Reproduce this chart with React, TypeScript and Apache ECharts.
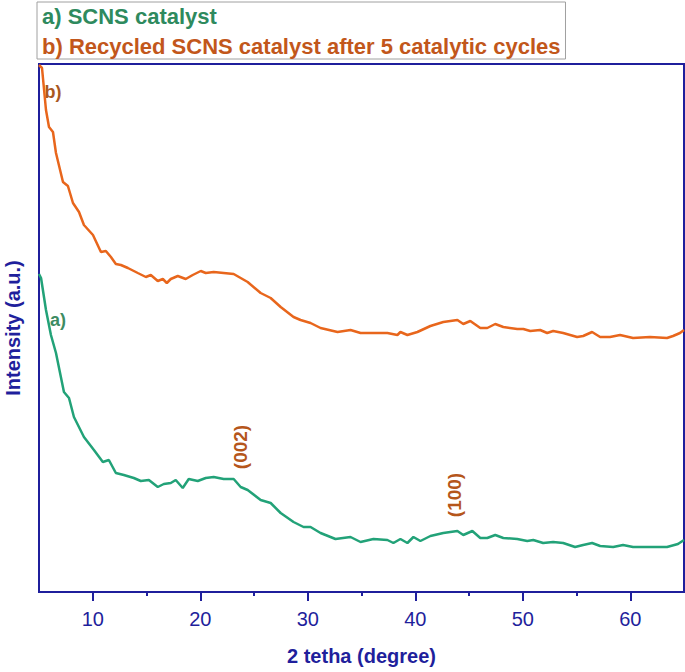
import React from "react";
import * as echarts from "echarts";

// 2θ (degree) / intensity (a.u.)
const recycledX = [
  5.0, 5.28, 5.65, 5.93, 6.3, 6.58, 7.23, 7.69, 8.16, 8.72, 9.18, 10.02, 10.76, 11.22, 11.69,
  12.15, 12.62, 13.27, 14.19, 14.94, 15.4, 16.05, 16.52, 16.89, 17.26, 17.91, 18.65, 19.3,
  20.05, 20.51, 21.25, 22.18, 23.11, 23.76, 24.41, 25.62, 26.55, 27.48, 28.68, 29.33, 30.26,
  31.19, 32.77, 33.98, 34.91, 36.11, 37.41, 38.34, 38.62, 39.27, 40.2, 41.41, 42.61, 43.92,
  44.47, 45.12, 46.05, 46.7, 47.44, 48.19, 49.49, 50.05, 50.7, 51.62, 52.27, 52.83, 53.76,
  55.06, 55.62, 56.45, 57.2, 58.12, 59.05, 60.26, 61.84, 63.42, 63.98, 64.63, 65.0,
];
const recycledY = [
  527, 524, 482, 465, 460, 439, 410, 406, 389, 380, 367, 357, 340, 341, 335,
  328, 327, 324, 319, 315, 317, 311, 313, 309, 313, 316, 313, 317,
  321, 319, 320, 319, 318, 314, 310, 299, 294, 285, 275, 272, 269,
  264, 260, 262, 259, 259, 259, 257, 260, 257, 260, 266, 270, 272,
  268, 271, 264, 264, 268, 265, 263, 263, 261, 262, 259, 261, 259,
  255, 256, 260, 255, 255, 257, 254, 255, 254, 256, 259, 262,
];

const freshX = [
  5.0, 5.19, 5.65, 6.11, 6.58, 7.32, 7.79, 8.25, 9.18, 10.11, 10.94, 11.5, 12.15, 12.89,
  13.82, 14.47, 15.22, 16.05, 16.61, 17.26, 17.72, 18.37, 18.93, 19.77, 20.51, 21.25, 22.18,
  23.11, 23.76, 24.41, 25.62, 26.55, 27.48, 28.68, 29.61, 30.26, 31.19, 32.58, 33.98, 34.91,
  36.11, 37.41, 37.97, 38.62, 39.27, 39.83, 40.48, 41.41, 42.61, 43.92, 44.47, 45.31, 46.05,
  46.7, 47.44, 48.19, 49.49, 50.42, 50.98, 51.9, 52.83, 53.76, 54.87, 55.62, 56.45, 57.2,
  58.41, 59.33, 60.26, 61.84, 63.42, 64.44, 65.0,
];
const freshY = [
  318, 314, 282, 257, 239, 200, 194, 175, 155, 142, 130, 132, 119, 117,
  114, 111, 112, 105, 108, 109, 112, 104, 113, 111, 114, 115, 113,
  113, 105, 102, 92, 89, 79, 70, 65, 65, 59, 53, 55, 50,
  53, 52, 49, 53, 49, 55, 51, 56, 59, 61, 57, 61, 54,
  54, 57, 54, 53, 51, 52, 49, 50, 49, 45, 47, 49, 46,
  45, 47, 45, 45, 45, 48, 52,
];

const majorTicks = [10, 20, 30, 40, 50, 60];
const minorTicks = [15, 25, 35, 45, 55];
const seriesNames = ["a) SCNS catalyst", "b) Recycled SCNS catalyst after 5 catalytic cycles"];

const AXIS = "#1f1f9c";
const GREEN = "#22a278";
const ORANGE = "#e8661c";

export default function App() {
  const ref = React.useRef<HTMLDivElement>(null);

  React.useEffect(() => {
    document.body.style.margin = "0";
    if (!ref.current) return;
    const chart = echarts.init(ref.current, null, { renderer: "svg" });
    const font = "Liberation Sans, Arial, sans-serif";

    const option: echarts.EChartsOption = {
      animation: false,
      backgroundColor: "#fff",
      textStyle: { fontFamily: font },
      grid: {
        left: 39, right: 1, top: 64, bottom: 80,
        outerBoundsMode: "none",
        show: true, borderColor: AXIS, borderWidth: 2, backgroundColor: "transparent",
      } as any,
      legend: {
        orient: "vertical",
        left: 37, top: 2,
        icon: "none",
        itemWidth: 0,
        itemGap: 8,
        padding: [3, 5, 2, 0],
        borderColor: "#a0a0a0",
        borderWidth: 1,
        selectedMode: false,
        textStyle: { fontSize: 22, fontWeight: "bold", fontFamily: font },
        data: [
          { name: seriesNames[0], textStyle: { color: "#2e8a5e" } },
          { name: seriesNames[1], textStyle: { color: "#c2571b" } },
        ],
      },
      xAxis: [
        {
          type: "value", min: 5, max: 65,
          name: "2 tetha (degree)", nameLocation: "middle", nameGap: 54,
          nameTextStyle: { color: AXIS, fontSize: 20, fontWeight: "bold" },
          axisLine: { lineStyle: { color: AXIS, width: 2 } },
          axisTick: { customValues: majorTicks, length: 9, lineStyle: { color: AXIS, width: 2 } },
          axisLabel: { customValues: majorTicks, color: AXIS, fontSize: 20, margin: 17 },
          splitLine: { show: false },
        },
        {
          type: "value", min: 5, max: 65, position: "bottom",
          axisLine: { show: false },
          axisTick: { customValues: minorTicks, length: 4, lineStyle: { color: AXIS, width: 2 } },
          axisLabel: { show: false },
          splitLine: { show: false },
        },
      ],
      yAxis: {
        type: "value", min: 0, max: 528,
        name: "Intensity (a.u.)", nameLocation: "middle", nameGap: 16,
        nameTextStyle: { color: AXIS, fontSize: 20, fontWeight: "bold" },
        axisLine: { show: true, lineStyle: { color: AXIS, width: 2 } },
        axisTick: { show: false },
        axisLabel: { show: false },
        splitLine: { show: false },
      },
      series: [
        {
          name: seriesNames[0], type: "line", showSymbol: false,
          data: freshX.map((x, i) => [x, freshY[i]]),
          lineStyle: { color: GREEN, width: 2.5 }, itemStyle: { color: GREEN },
        },
        {
          name: seriesNames[1], type: "line", showSymbol: false,
          data: recycledX.map((x, i) => [x, recycledY[i]]),
          lineStyle: { color: ORANGE, width: 2.5 }, itemStyle: { color: ORANGE },
        },
      ],
      graphic: [
        { type: "text", x: 53, y: 92, style: { text: "b)", fill: "#a9581f", font: `bold 18px ${font}`, align: "center", verticalAlign: "middle" } },
        { type: "text", x: 58, y: 320, style: { text: "a)", fill: "#3d8c62", font: `bold 18px ${font}`, align: "center", verticalAlign: "middle" } },
        { type: "text", x: 240, y: 447, rotation: Math.PI / 2, style: { text: "(002)", fill: "#b5561b", font: `bold 19px ${font}`, align: "center", verticalAlign: "middle" } },
        { type: "text", x: 454, y: 495, rotation: Math.PI / 2, style: { text: "(100)", fill: "#b5561b", font: `bold 19px ${font}`, align: "center", verticalAlign: "middle" } },
      ],
    };

    chart.setOption(option);
    return () => chart.dispose();
  }, []);

  return <div ref={ref} style={{ width: 685, height: 672 }} />;
}
